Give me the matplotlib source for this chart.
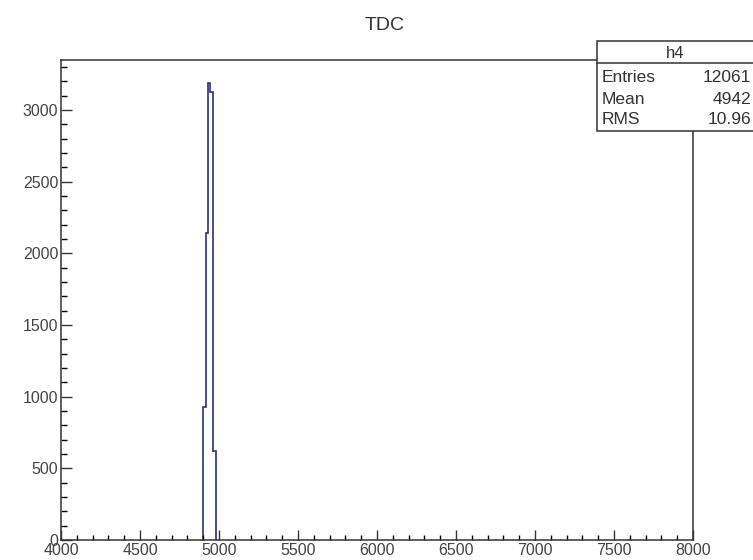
import matplotlib
matplotlib.use("Agg")
import matplotlib.pyplot as plt
from matplotlib.patches import Rectangle
from matplotlib.lines import Line2D
from matplotlib.ticker import MultipleLocator

plt.rcParams['font.family'] = ['Liberation Sans', 'DejaVu Sans']

# histogram (TDC counts)
bin_edges = [4900, 4910, 4920, 4930, 4940, 4950, 4960, 4970, 4980]
counts = [930, 930, 2140, 3190, 3130, 3130, 620, 620]

hist_name = "h4"
stat_names = ["Entries", "Mean", "RMS"]
stat_values = ["12061", "4942", "10.96"]

W, H = 753, 560
fig = plt.figure(figsize=(W / 100, H / 100), dpi=100)

# pixel -> figure fraction
def fx(px):
    return px / W

def fy(py):
    return 1 - py / H

# axes box in pixels: left 61, right 693, top 60, bottom 540
ax = fig.add_axes([fx(61), fy(540), fx(693) - fx(61), fy(60) - fy(540)])

ax.stairs(counts, bin_edges, baseline=0, color='#2e2e80', linewidth=1.2)

ax.set_xlim(4000, 8000)
ax.set_ylim(0, 3350)
ax.xaxis.set_major_locator(MultipleLocator(500))
ax.xaxis.set_minor_locator(MultipleLocator(100))
ax.yaxis.set_major_locator(MultipleLocator(500))
ax.yaxis.set_minor_locator(MultipleLocator(100))
ax.tick_params(axis='x', which='major', direction='in', length=7, width=1, labelsize=11.5, pad=2.5)
ax.tick_params(axis='x', which='minor', direction='in', length=3.5, width=1)
ax.tick_params(axis='y', which='major', direction='in', length=8, width=1, labelsize=11.5, pad=2)
ax.tick_params(axis='y', which='minor', direction='in', length=4.5, width=1)
for s in ax.spines.values():
    s.set_linewidth(1.1)
    s.set_color('#333333')
ax.tick_params(colors='#333333', labelcolor='#444444')

fig.text(fx(385), fy(25), "TDC", ha='center', va='center', fontsize=14, color='#333333')

# stats box (runs off the right edge like the original)
box = Rectangle((fx(597), fy(131)), 1.0, fy(41) - fy(131), transform=fig.transFigure,
                facecolor='white', edgecolor='#333333', linewidth=1.1, clip_on=False, zorder=5)
fig.patches.append(box)
fig.lines.append(Line2D([fx(597), 1.0], [fy(63), fy(63)], transform=fig.transFigure,
                        color='#333333', linewidth=1.1, zorder=6))
fig.text(fx(675), fy(53), hist_name, ha='center', va='center', fontsize=12, color='#333333', zorder=7)
row_y = [77, 99, 120]
for name, val, y in zip(stat_names, stat_values, row_y):
    fig.text(fx(602), fy(y), name, ha='left', va='center', fontsize=12.5, color='#333333', zorder=7)
    fig.text(fx(751), fy(y), val, ha='right', va='center', fontsize=12.5, color='#333333', zorder=7)

fig.savefig("out.png", dpi=100)
